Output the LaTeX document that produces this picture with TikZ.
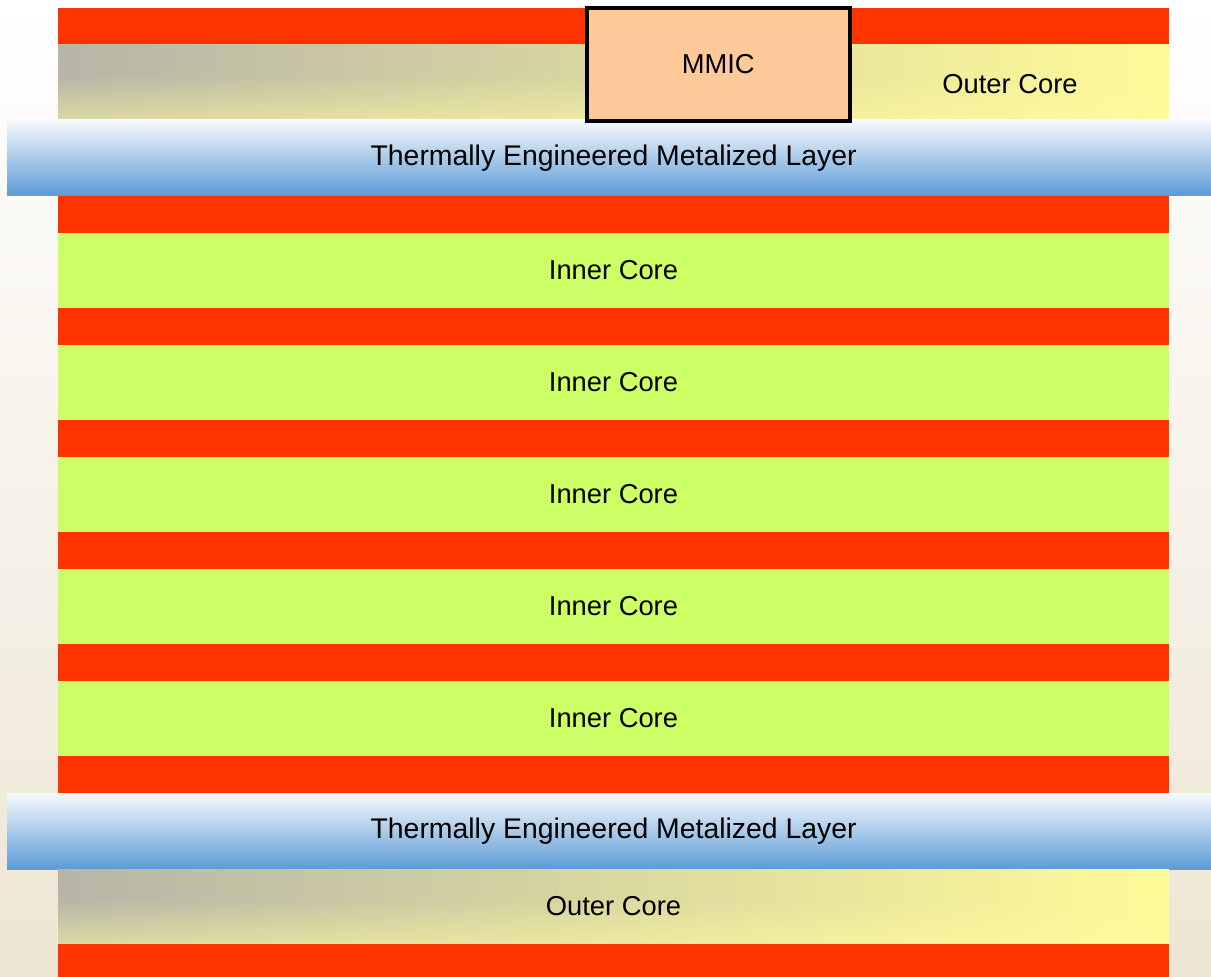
\documentclass[tikz,border=0pt]{standalone}
\usepackage{fontspec}
\setmainfont{Liberation Sans}
\usetikzlibrary{positioning, fadings}
\definecolor{foilred}{RGB}{255,51,0}
\definecolor{innergreen}{RGB}{204,255,102}
\definecolor{outergray}{RGB}{182,181,168}
\definecolor{outermid}{RGB}{214,212,166}
\definecolor{outeryellow}{RGB}{255,251,152}
\definecolor{chippeach}{RGB}{255,202,153}
\definecolor{metaltop}{RGB}{247,250,253}
\definecolor{metalbottom}{RGB}{92,155,214}
\definecolor{backbeige}{RGB}{238,230,212}
% veil that is opaque only near the bottom of an outer core
\begin{tikzfadingfrompicture}[name=fadeup]
	\fill[transparent!100] (-50bp,-50bp) rectangle (50bp,50bp);
	\shade[bottom color=transparent!5, top color=transparent!100] (-50bp,-50bp) rectangle (50bp,5bp);
\end{tikzfadingfrompicture}
\tikzstyle{foil} = [rectangle, minimum width=833.25pt, minimum height=27.75pt, inner sep=0pt, outer sep=0pt, fill=foilred]
\tikzstyle{innercore} = [rectangle, minimum width=833.25pt, minimum height=56.25pt, inner sep=0pt, outer sep=0pt, fill=innergreen]
\tikzstyle{outercore} = [rectangle, minimum width=833.25pt, minimum height=56.25pt, inner sep=0pt, outer sep=0pt, left color=outergray, middle color=outermid, right color=outeryellow, postaction={fill=outeryellow!92!white, path fading=fadeup}]
\tikzstyle{metal} = [rectangle, minimum width=903pt, minimum height=57pt, inner sep=0pt, outer sep=0pt, top color=metaltop, bottom color=metalbottom, font=\fontsize{21.3}{25}\selectfont]
\tikzstyle{chip} = [rectangle, minimum width=197.6pt, minimum height=84.4pt, inner sep=0pt, draw=black, line width=3pt, fill=chippeach]

\begin{document}
\begin{tikzpicture}[x=0.75pt, y=-0.75pt, font=\fontsize{20.5}{24}\selectfont]
	\fill[top color=white, bottom color=backbeige] (0,0) rectangle (1211,977);
	\useasboundingbox (0,0) rectangle (1211,977);

	\node (topfoil) [foil] at (613.5,26.5) {};
	\node (topoutercore) [outercore, below=0pt of topfoil] {};
	\node (topmetal) [metal, below=0pt of topoutercore, xshift=-3.375pt] {\hspace*{7pt}Thermally Engineered Metalized Layer};

	\node (foilone) [foil, below=0pt of topmetal, xshift=3.375pt] {};
	\node (innerone) [innercore, below=0pt of foilone] {Inner Core};
	\node (foiltwo) [foil, below=0pt of innerone] {};
	\node (innertwo) [innercore, below=0pt of foiltwo] {Inner Core};
	\node (foilthree) [foil, below=0pt of innertwo] {};
	\node (innerthree) [innercore, below=0pt of foilthree] {Inner Core};
	\node (foilfour) [foil, below=0pt of innerthree] {};
	\node (innerfour) [innercore, below=0pt of foilfour] {Inner Core};
	\node (foilfive) [foil, below=0pt of innerfour] {};
	\node (innerfive) [innercore, below=0pt of foilfive] {Inner Core};
	\node (foilsix) [foil, below=0pt of innerfive] {};

	\node (bottommetal) [metal, below=0pt of foilsix, xshift=-3.375pt] {\hspace*{7pt}Thermally Engineered Metalized Layer};
	\node (bottomoutercore) [outercore, below=0pt of bottommetal, xshift=3.375pt] {Outer Core};
	\node (bottomfoil) [foil, below=0pt of bottomoutercore, minimum height=26.25pt] {};

	\node (topcorelabel) at (1010,84) {Outer Core};
	\node (mmic) [chip] at (718.25,64.25) {MMIC};
\end{tikzpicture}
\end{document}
